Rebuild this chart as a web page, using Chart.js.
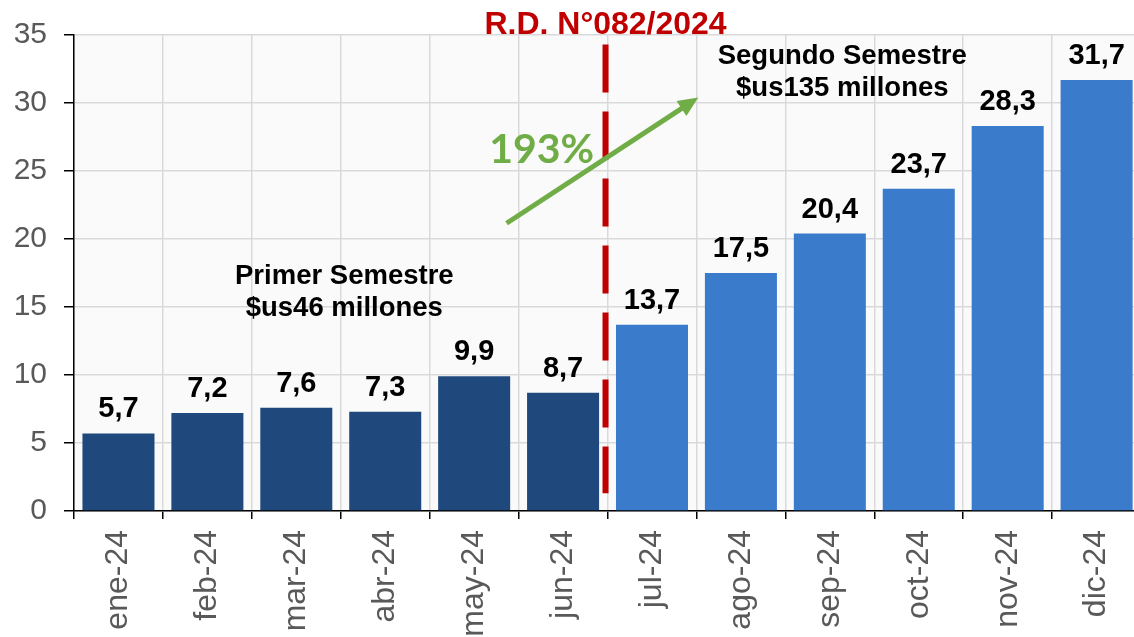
<!DOCTYPE html>
<html>
<head>
<meta charset="utf-8">
<script src="https://cdn.jsdelivr.net/npm/chart.js@4.4.1/dist/chart.umd.min.js"></script>
<style>
  html, body { margin: 0; padding: 0; background: #ffffff; overflow: hidden; }
  #wrap { position: relative; width: 1146px; height: 637px; }
</style>
</head>
<body>
<div id="wrap"><canvas id="recaudacion"></canvas></div>
<script>
// monthly values (millions $us)
const months = ['ene-24', 'feb-24', 'mar-24', 'abr-24', 'may-24', 'jun-24',
                'jul-24', 'ago-24', 'sep-24', 'oct-24', 'nov-24', 'dic-24'];
const values = [5.7, 7.2, 7.6, 7.3, 9.9, 8.7, 13.7, 17.5, 20.4, 23.7, 28.3, 31.7];
const yTicks = [0, 5, 10, 15, 20, 25, 30, 35];
const splitAfter = 6; // R.D. N°082/2024 takes effect from jul-24

const FONT = "'Liberation Sans', Arial, sans-serif";
const darkBlue = '#1f497d';
const lightBlue = '#3a7bcc';

const barColors = values.map((v, i) => i < splitAfter ? darkBlue : lightBlue);

function fmt(v) {
  return v.toFixed(1).replace('.', ',');
}

// plot background + data labels + annotations
const extras = {
  id: 'extras',
  beforeDraw(chart) {
    const { ctx, chartArea: a } = chart;
    ctx.save();
    ctx.fillStyle = '#fafafa';
    ctx.fillRect(a.left, a.top, a.right - a.left, a.bottom - a.top);
    ctx.restore();
  },
  afterDatasetsDraw(chart) {
    const ctx = chart.ctx;
    const xs = chart.scales.x;
    const ys = chart.scales.y;
    const px = (v) => xs.getPixelForValue(v);
    const py = (v) => ys.getPixelForValue(v);

    ctx.save();

    // value labels above bars
    ctx.font = 'bold 29px ' + FONT;
    ctx.fillStyle = '#000';
    ctx.textAlign = 'center';
    ctx.textBaseline = 'alphabetic';
    chart.getDatasetMeta(0).data.forEach((bar, i) => {
      ctx.fillText(fmt(values[i]), bar.x, bar.y - 16);
    });

    // dashed red line between jun and jul
    const lx = px(splitAfter - 0.5) - 2;
    ctx.strokeStyle = '#c00000';
    ctx.lineWidth = 6;
    ctx.setLineDash([48, 19]);
    ctx.beginPath();
    ctx.moveTo(lx, py(34.3));
    ctx.lineTo(lx, py(1.3));
    ctx.stroke();
    ctx.setLineDash([]);

    ctx.font = 'bold 32px ' + FONT;
    ctx.fillStyle = '#c00000';
    ctx.fillText('R.D. N°082/2024', lx, py(35) - 1);

    // green growth arrow
    const x1 = px(4.365), y1 = py(21.16);
    const x2 = px(6.52), y2 = py(30.4);
    const ang = Math.atan2(y2 - y1, x2 - x1);
    const head = 20;
    ctx.strokeStyle = '#70ad47';
    ctx.fillStyle = '#70ad47';
    ctx.lineWidth = 5;
    ctx.beginPath();
    ctx.moveTo(x1, y1);
    ctx.lineTo(x2 - Math.cos(ang) * head * 0.8, y2 - Math.sin(ang) * head * 0.8);
    ctx.stroke();
    ctx.beginPath();
    ctx.moveTo(x2, y2);
    ctx.lineTo(x2 - head * Math.cos(ang) + 9 * Math.sin(ang), y2 - head * Math.sin(ang) - 9 * Math.cos(ang));
    ctx.lineTo(x2 - head * Math.cos(ang) - 9 * Math.sin(ang), y2 - head * Math.sin(ang) + 9 * Math.cos(ang));
    ctx.closePath();
    ctx.fill();

    ctx.font = 'bold 41px Lato, ' + FONT;
    ctx.fillText('193%', px(4.76), py(25.6));

    // semester notes
    ctx.fillStyle = '#000';
    ctx.font = 'bold 27.5px ' + FONT;
    ctx.fillText('Primer Semestre', px(2.54), py(16.7));
    ctx.fillText('$us46 millones', px(2.54), py(14.35));
    ctx.fillText('Segundo Semestre', px(8.14), py(32.9));
    ctx.fillText('$us135 millones', px(8.14), py(30.55));

    ctx.restore();
  }
};

const ctx = document.getElementById('recaudacion').getContext('2d');
new Chart(ctx, {
  type: 'bar',
  data: {
    labels: months,
    datasets: [{
      data: values,
      backgroundColor: barColors,
      borderWidth: 0,
      categoryPercentage: 1,
      barPercentage: 0.81
    }]
  },
  options: {
    responsive: true,
    maintainAspectRatio: false,
    animation: false,
    devicePixelRatio: 1,
    layout: { padding: { top: 33, right: 0, left: 0, bottom: 0 } },
    plugins: {
      legend: { display: false },
      tooltip: { enabled: false }
    },
    scales: {
      x: {
        offset: true,
        grid: {
          offset: true,
          color: '#d9d9d9',
          lineWidth: 1.5,
          tickColor: '#000',
          tickLength: 8
        },
        border: { display: true, color: '#000', width: 1.5 },
        ticks: {
          color: '#595959',
          font: { family: FONT, size: 32 },
          minRotation: 90,
          maxRotation: 90,
          padding: 11,
          autoSkip: false
        },
        afterFit(s) { s.height = 126; }
      },
      y: {
        min: 0,
        max: 35,
        afterBuildTicks(s) { s.ticks = yTicks.map(v => ({ value: v })); },
        grid: {
          color: '#d9d9d9',
          lineWidth: 1.5,
          tickColor: '#000',
          tickLength: 10
        },
        border: { display: true, color: '#000', width: 1.5 },
        ticks: {
          color: '#595959',
          font: { family: FONT, size: 30 },
          padding: 17
        },
        afterFit(s) { s.width = 74; }
      }
    }
  },
  plugins: [extras]
});
</script>
</body>
</html>
